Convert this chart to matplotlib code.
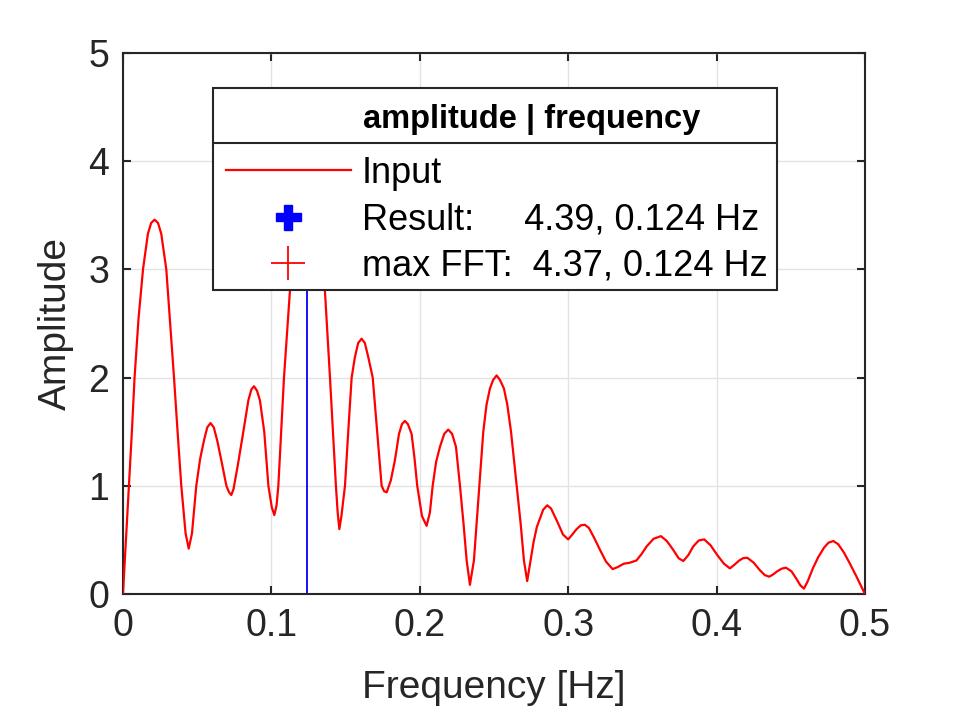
import numpy as np
import matplotlib
matplotlib.use("Agg")
import matplotlib.pyplot as plt
from matplotlib.patches import Rectangle

# =============================
#     DATA
# =============================

freq = [0.000, 0.002, 0.004, 0.006, 0.0078, 0.0105, 0.0135, 0.0168, 0.019, 0.0213,
        0.0236, 0.0258, 0.0292, 0.0318, 0.0344, 0.0368, 0.0393, 0.0422, 0.0443, 0.0465,
        0.0494, 0.052, 0.0546, 0.0568, 0.059, 0.0612, 0.0635, 0.0665, 0.0697, 0.0715,
        0.073, 0.0745, 0.0775, 0.0811, 0.0845, 0.0865, 0.0883, 0.0903, 0.0923, 0.0952,
        0.098, 0.1003, 0.102, 0.1035, 0.1047, 0.1066, 0.1085, 0.1105, 0.1125, 0.1155,
        0.1185, 0.1215, 0.124, 0.1265, 0.1295, 0.1325, 0.1361, 0.1378, 0.1395, 0.1415,
        0.1435, 0.1447, 0.1458, 0.1472, 0.1496, 0.1518, 0.1541, 0.1563, 0.1585, 0.1608,
        0.163, 0.1653, 0.1683, 0.1713, 0.1743, 0.176, 0.1777, 0.1805, 0.1833, 0.186,
        0.188, 0.190, 0.192, 0.1945, 0.1965, 0.1983, 0.2015, 0.2046, 0.2068, 0.2087,
        0.211, 0.2136, 0.2165, 0.2192, 0.2218, 0.2244, 0.2271, 0.2295, 0.2316, 0.2338,
        0.2365, 0.2383, 0.2401, 0.2428, 0.245, 0.2473, 0.2495, 0.2518, 0.254, 0.2567,
        0.259, 0.2615, 0.2653, 0.268, 0.2702, 0.2724, 0.2747, 0.2767, 0.2789, 0.2832,
        0.2859, 0.2885, 0.2933, 0.2965, 0.300, 0.3028, 0.3057, 0.3085, 0.3113, 0.314,
        0.3175, 0.3214, 0.3255, 0.330, 0.3335, 0.3375, 0.3417, 0.346, 0.3495, 0.3529,
        0.3575, 0.3625, 0.3665, 0.3707, 0.3745, 0.3776, 0.381, 0.3843, 0.388, 0.3917,
        0.396, 0.4005, 0.405, 0.409, 0.412, 0.4153, 0.418, 0.4207, 0.425, 0.4292,
        0.4325, 0.4355, 0.438, 0.4409, 0.444, 0.4468, 0.4505, 0.4536, 0.4565, 0.4589,
        0.4615, 0.465, 0.4685, 0.4725, 0.4755, 0.4787, 0.482, 0.486, 0.4899, 0.494,
        0.4975, 0.500]
amp = [0.00, 0.50, 1.00, 1.50, 2.00, 2.55, 3.00, 3.33, 3.43, 3.46,
       3.43, 3.33, 3.00, 2.50, 2.00, 1.50, 1.00, 0.56, 0.42, 0.56,
       1.00, 1.25, 1.42, 1.54, 1.58, 1.54, 1.42, 1.22, 1.00, 0.94,
       0.915, 0.97, 1.20, 1.50, 1.79, 1.89, 1.92, 1.88, 1.79, 1.50,
       1.00, 0.80, 0.73, 0.82, 1.00, 1.50, 2.00, 2.40, 2.80, 3.45,
       3.95, 4.28, 4.37, 4.28, 3.95, 3.45, 2.80, 2.40, 2.00, 1.50,
       1.00, 0.75, 0.60, 0.72, 1.00, 1.50, 2.00, 2.19, 2.32, 2.36,
       2.32, 2.19, 2.00, 1.50, 1.00, 0.95, 0.94, 1.05, 1.24, 1.48,
       1.57, 1.60, 1.57, 1.48, 1.25, 1.00, 0.72, 0.63, 0.75, 1.00,
       1.22, 1.36, 1.48, 1.52, 1.48, 1.36, 1.00, 0.65, 0.31, 0.085,
       0.31, 0.65, 1.00, 1.50, 1.75, 1.90, 1.98, 2.02, 1.98, 1.90,
       1.75, 1.50, 1.00, 0.65, 0.31, 0.12, 0.31, 0.48, 0.62, 0.78,
       0.82, 0.79, 0.65, 0.55, 0.505, 0.55, 0.60, 0.635, 0.64, 0.61,
       0.52, 0.41, 0.30, 0.23, 0.25, 0.28, 0.29, 0.31, 0.37, 0.44,
       0.51, 0.535, 0.49, 0.41, 0.33, 0.305, 0.36, 0.44, 0.495, 0.505,
       0.45, 0.36, 0.28, 0.237, 0.27, 0.31, 0.332, 0.335, 0.29, 0.22,
       0.175, 0.16, 0.18, 0.21, 0.235, 0.243, 0.21, 0.145, 0.08, 0.05,
       0.12, 0.24, 0.34, 0.43, 0.475, 0.49, 0.46, 0.38, 0.28, 0.17,
       0.07, 0.00]

result_amp, result_freq = 4.39, 0.124
fft_amp, fft_freq = 4.37, 0.124

xticks = [0, 0.1, 0.2, 0.3, 0.4, 0.5]
xticklabels = ["0", "0.1", "0.2", "0.3", "0.4", "0.5"]
yticks = [0, 1, 2, 3, 4, 5]

# =============================
#        GRAFICAR
# =============================

plt.rcParams['font.family'] = ['Liberation Sans', 'DejaVu Sans']
gris = "#262626"

fig = plt.figure(figsize=(9.57, 7.15), dpi=100)
ax = fig.add_axes([0.1285, 0.1692, 0.7753, 0.7566])

ax.plot(freq, amp, color="red", linewidth=1.6, label="Input", zorder=3)
ax.plot([result_freq, result_freq], [0, result_amp], color="blue", linewidth=1.3, zorder=2)
ax.plot([result_freq], [result_amp], linestyle="none", marker="P", color="blue",
        markersize=18, label=f"Result:     {result_amp:.2f}, {result_freq:.3f} Hz", zorder=4)
ax.plot([fft_freq], [fft_amp], linestyle="none", marker="+", color="red",
        markersize=25, markeredgewidth=1.3,
        label=f"max FFT:  {fft_amp:.2f}, {fft_freq:.3f} Hz", zorder=4)

ax.set_xlim(0, 0.5)
ax.set_ylim(0, 5)
ax.set_xticks(xticks)
ax.set_xticklabels(xticklabels)
ax.set_yticks(yticks)

ax.grid(True, color="#e3e3e3", linewidth=1.0)
ax.set_axisbelow(True)
for s in ax.spines.values():
    s.set_color(gris)
    s.set_linewidth(1.5)
ax.tick_params(direction="in", top=True, right=True, length=6, width=1.5,
               colors=gris, labelsize=27, pad=10)

ax.set_xlabel("Frequency [Hz]", fontsize=28, color=gris, labelpad=19)
ax.set_ylabel("Amplitude", fontsize=28, color=gris, labelpad=10)

# caja de la leyenda estilo MATLAB (titulo + linea separadora)
caja = Rectangle((0.1213, 0.5614), 0.881 - 0.1213, 0.9359 - 0.5614,
                 transform=ax.transAxes, facecolor="white", edgecolor=gris,
                 linewidth=1.5, zorder=8, clip_on=False)
ax.add_patch(caja)
ax.plot([0.1213, 0.881], [0.8342, 0.8342], transform=ax.transAxes,
        color=gris, linewidth=1.5, zorder=9, clip_on=False)
ax.text(0.5505, 0.8619, "amplitude | frequency", transform=ax.transAxes,
        ha="center", va="baseline", fontsize=23.5, fontweight="bold", color="black",
        zorder=9)

leg = ax.legend(loc="upper left", bbox_to_anchor=(0.1213, 0.8342), borderaxespad=0,
                fontsize=26, frameon=False, handlelength=3.45, handletextpad=0.32,
                borderpad=0.36, labelspacing=0.32)
leg.set_zorder(10)

fig.savefig("out.png", dpi=100)
